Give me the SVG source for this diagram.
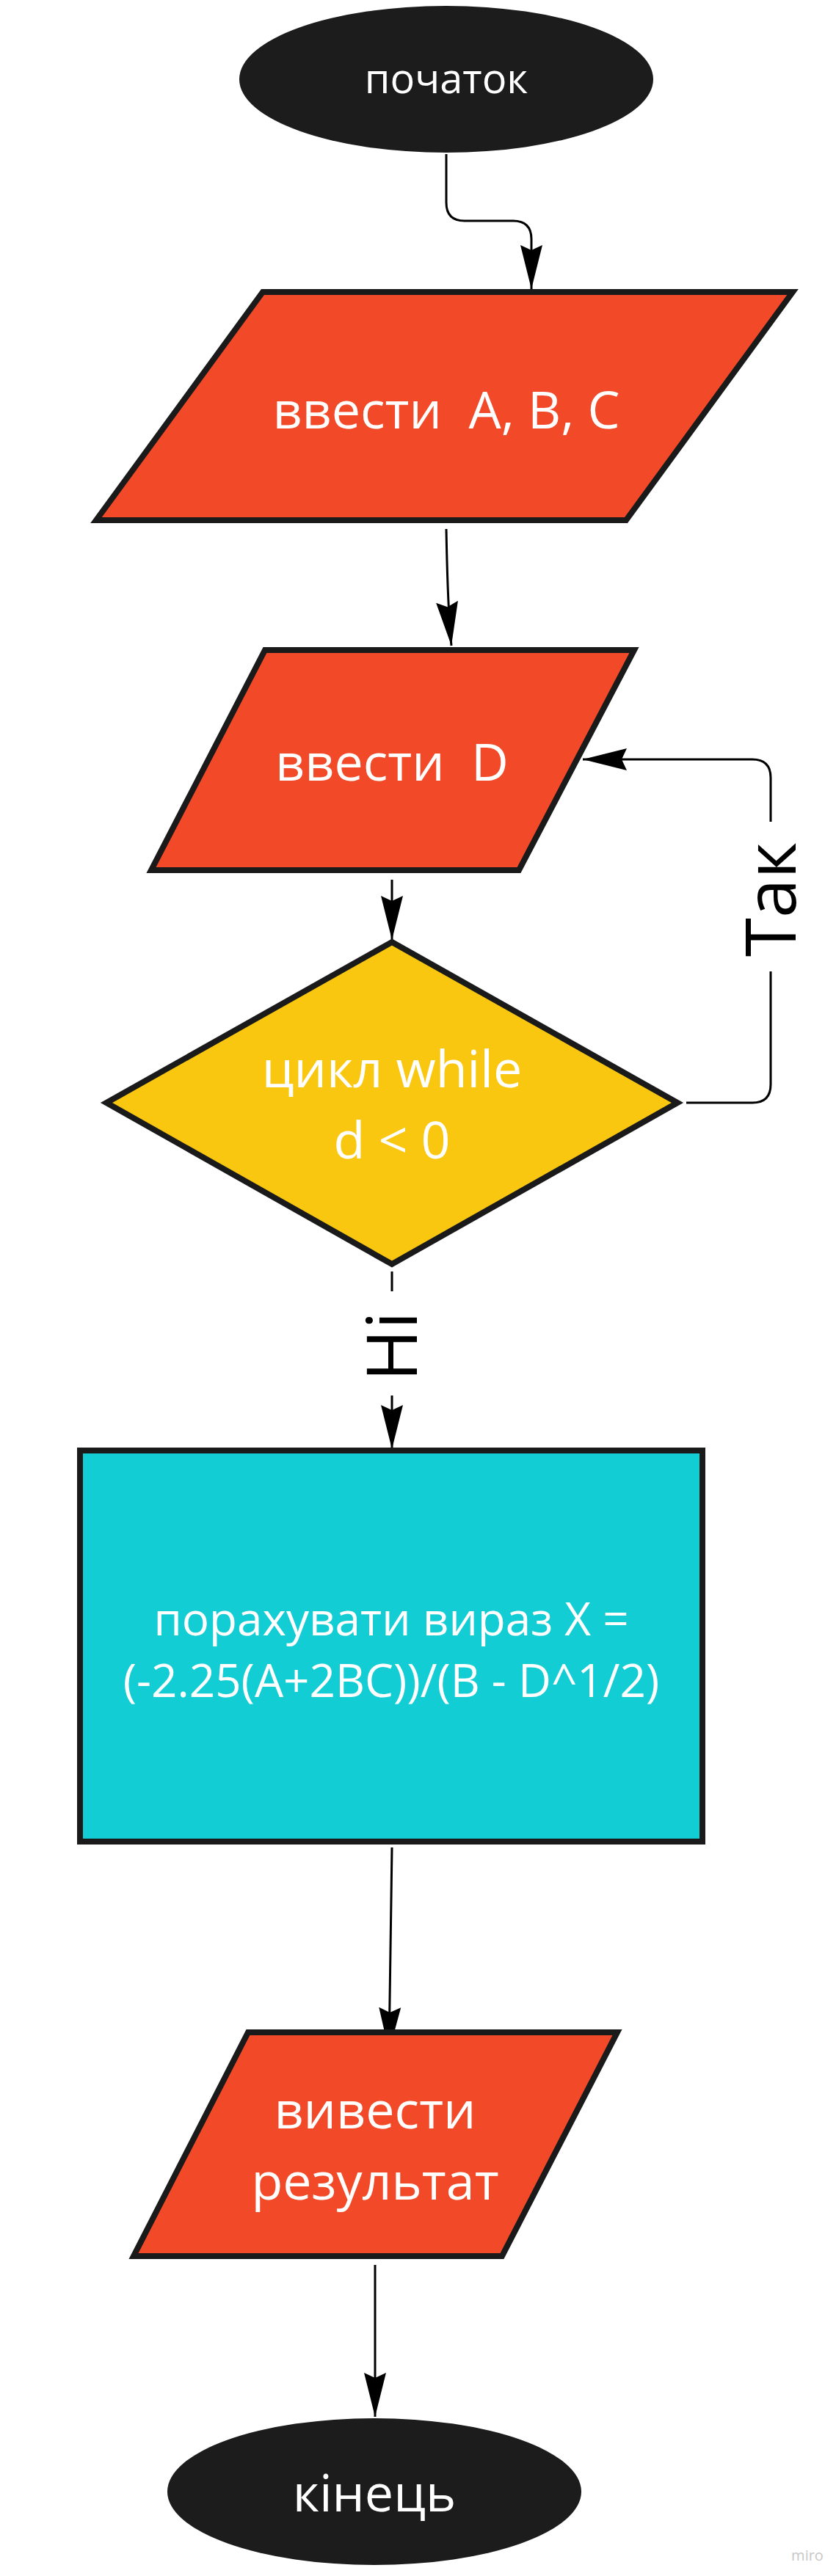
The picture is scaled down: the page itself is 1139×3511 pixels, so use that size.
<svg xmlns="http://www.w3.org/2000/svg" width="1139" height="3511" viewBox="0 0 1139 3511">
<style>
.bg{fill:#ffffff}
.shape{stroke:#1a1a1a;stroke-width:8;stroke-linejoin:miter;stroke-miterlimit:10}
.term{fill:#1c1c1c}
.io{fill:#f24a28}
.dec{fill:#fac710}
.proc{fill:#13cdd4}
.t{font-family:"Open Sans","Noto Sans","Liberation Sans",sans-serif;fill:#ffffff;text-anchor:middle}
.lbl{font-family:"Open Sans","Noto Sans","Liberation Sans",sans-serif;fill:#000000;text-anchor:middle;font-size:96px}
.conn{fill:none;stroke:#000000;stroke-width:3}
</style>
<defs>
<marker id="arr" markerUnits="userSpaceOnUse" markerWidth="64" markerHeight="34" refX="60" refY="16" orient="auto">
<path d="M0,1 L60,16 L0,31 L7,16 Z" fill="#000000"/>
</marker>
</defs>
<rect class="bg" x="0" y="0" width="1139" height="3511"/>
<g id="connectors">
<path class="conn" d="M608,210 V276 Q608,301 633,301 H699 Q724,301 724,326 V394" marker-end="url(#arr)"/>
<path class="conn" d="M608,721 Q610,830 615,880" marker-end="url(#arr)"/>
<path class="conn" d="M534,1199 V1281" marker-end="url(#arr)"/>
<path class="conn" d="M935,1503 H1025 Q1050,1503 1050,1478 V1324"/>
<path class="conn" d="M1050,1120 V1060 Q1050,1035 1025,1035 H794" marker-end="url(#arr)"/>
<path class="conn" d="M534,1733 V1760"/>
<path class="conn" d="M534,1902 V1975" marker-end="url(#arr)"/>
<path class="conn" d="M534,2518 Q532,2700 530,2796" marker-end="url(#arr)"/>
<path class="conn" d="M511,3087 V3294" marker-end="url(#arr)"/>
<text class="lbl" transform="translate(1084,1226) rotate(-90)">Так</text>
<text class="lbl" transform="translate(568,1835) rotate(-90)">Ні</text>
</g>
<g id="start">
<ellipse class="term" cx="608" cy="108" rx="282" ry="100"/>
<text class="t" x="608" y="127" font-size="56">початок</text>
</g>
<g id="input-abc">
<polygon class="io shape" points="358,398 1080,398 853,709 131,709"/>
<text class="t" x="608" y="584" font-size="70" xml:space="preserve">ввести  A, B, C</text>
</g>
<g id="input-d">
<polygon class="io shape" points="361,886 864,886 707,1186 206,1186"/>
<text class="t" x="534" y="1064" font-size="70" xml:space="preserve">ввести  D</text>
</g>
<g id="loop">
<polygon class="dec shape" points="534,1284 923,1503 534,1723 145,1503"/>
<text class="t" x="534" y="1482" font-size="70">цикл while</text>
<text class="t" x="534" y="1579" font-size="70">d &lt; 0</text>
</g>
<g id="compute">
<rect class="proc shape" x="109" y="1977" width="848" height="533"/>
<text class="t" x="533" y="2229" font-size="62">порахувати вираз X =</text>
<text class="t" x="533" y="2313" font-size="62">(-2.25(A+2BC))/(B - D^1/2)</text>
</g>
<g id="output">
<polygon class="io shape" points="338,2770 841,2770 684,3075 182,3075"/>
<text class="t" x="511" y="2901" font-size="70">вивести</text>
<text class="t" x="511" y="2998" font-size="70">результат</text>
</g>
<g id="end">
<ellipse class="term" cx="510" cy="3396" rx="282" ry="100"/>
<text class="t" x="510" y="3423" font-size="70">кінець</text>
</g>
<text x="1100" y="3490" font-family="Open Sans, Liberation Sans, sans-serif" font-size="20" fill="#c8c8c8" text-anchor="middle">miro</text>
</svg>
